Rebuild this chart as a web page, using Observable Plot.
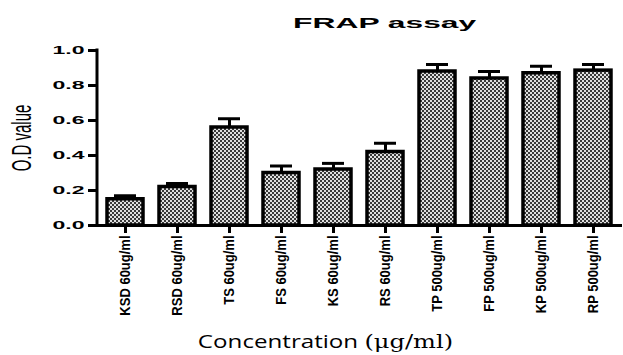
<!DOCTYPE html>
<html><head><meta charset="utf-8">
<script src="https://cdn.jsdelivr.net/npm/d3@7"></script>
<script src="https://cdn.jsdelivr.net/npm/@observablehq/plot@0.6"></script>
<style>
body{margin:0;background:#fff;width:623px;height:355px;overflow:hidden;position:relative;}
#title{position:absolute;left:0;top:14.5px;width:623px;box-sizing:border-box;padding-left:147px;text-align:center;font:bold 15.5px "Liberation Sans",Arial,sans-serif;line-height:16px;}
#title span{display:inline-block;transform:scaleX(2.05);transform-origin:50% 50%;}
#chart{position:absolute;left:0;top:36px;}
#cap{position:absolute;left:0;top:331px;width:623px;box-sizing:border-box;padding-left:27px;text-align:center;font:19px "Open Sans","Noto Sans",sans-serif;line-height:20px;white-space:nowrap;}
#cap > span{display:inline-block;transform:scaleX(1.27);transform-origin:50% 50%;}
#cap .u{font-family:"DejaVu Serif","Liberation Serif",serif;}
svg{display:block;}
</style></head><body>
<div id="title"><span>FRAP assay</span></div>
<div id="chart"></div>
<div id="cap"><span>Concentration <span class="u">(μg/ml)</span></span></div>
<script>
const categories = ["KSD 60ug/ml","RSD 60ug/ml","TS 60ug/ml","FS 60ug/ml","KS 60ug/ml","RS 60ug/ml","TP 500ug/ml","FP 500ug/ml","KP 500ug/ml","RP 500ug/ml"];
const values = [0.15,0.22,0.56,0.30,0.32,0.42,0.88,0.84,0.87,0.885];
const errors = [0.02,0.02,0.05,0.04,0.035,0.05,0.04,0.04,0.04,0.035];
const yTicks = [0,0.2,0.4,0.6,0.8,1.0];
const data = categories.map((c,i)=>({name:c, value:values[i], hi:values[i]+errors[i]}));

const plot = Plot.plot({
  width:623, height:292,
  marginLeft:97, marginRight:1, marginTop:14, marginBottom:103,
  style:{fontFamily:"'Liberation Sans', Arial, sans-serif", background:"#fff", color:"#000"},
  x:{domain:categories, padding:0.3, paddingOuter:0.16, label:null},
  y:{domain:[0,1], label:null},
  marks:[
    Plot.axisY({ticks:yTicks, tickFormat:d3.format(".1f"), tickSize:9, tickPadding:4, fontSize:11, fontWeight:"bold", strokeWidth:3, label:null}),
    Plot.axisX({tickRotate:-90, tickSize:8, tickPadding:2, fontSize:13, fontWeight:"bold", strokeWidth:3, label:null}),
    Plot.ruleX(data,{x:"name", y1:"value", y2:"hi", strokeWidth:3}),
    Plot.tickY(data,{x:"name", y:"hi", strokeWidth:3, insetLeft:7, insetRight:7}),
    Plot.barY(data,{x:"name", y:"value", fill:"url(#hatch)", stroke:"black", strokeWidth:3.5}),
    Plot.ruleY([0],{strokeWidth:3}),
    Plot.text(["O.D value"],{frameAnchor:"left", textAnchor:"middle", rotate:-90, dx:-75, fontSize:15})
  ]
});
const svg = d3.select(plot);
const defs = svg.insert("defs",":first-child");
const pat = defs.append("pattern").attr("id","hatch").attr("patternUnits","userSpaceOnUse").attr("width",4).attr("height",4);
pat.append("rect").attr("width",4).attr("height",4).attr("fill","#e0e0e0");
pat.append("rect").attr("width",2).attr("height",2).attr("fill","#3a3a3a");
pat.append("rect").attr("x",2).attr("y",2).attr("width",2).attr("height",2).attr("fill","#3a3a3a");
const ys = plot.scale("y");
svg.append("line").attr("x1",97).attr("x2",97).attr("y1",ys.range[0]+1.5).attr("y2",ys.range[1]-1.5).attr("stroke","black").attr("stroke-width",3);
function addScale(sel, s){
  sel.each(function(){
    const t = this.getAttribute("transform") || "";
    this.setAttribute("transform", t + " " + s);
  });
}
addScale(svg.selectAll('g[aria-label="x-axis tick label"] text'), "scale(1,1.15)");
svg.selectAll('g[aria-label="y-axis tick label"] text').attr("textLength",32).attr("lengthAdjust","spacingAndGlyphs");
addScale(svg.selectAll('g[aria-label="text"] text'), "scale(1,1.8)");
document.getElementById("chart").appendChild(plot);
</script>
</body></html>
